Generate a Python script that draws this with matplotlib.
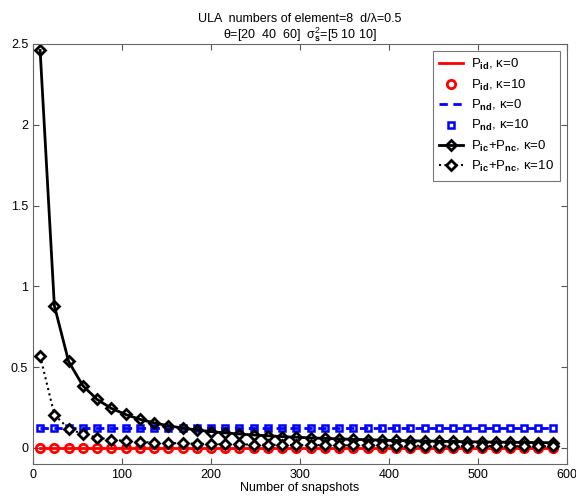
import numpy as np
import matplotlib
matplotlib.use('Agg')
import matplotlib.pyplot as plt

plt.rcParams['font.family'] = ['Liberation Sans', 'DejaVu Sans']
plt.rcParams['mathtext.fontset'] = 'custom'
plt.rcParams['mathtext.rm'] = 'Liberation Sans'
plt.rcParams['mathtext.it'] = 'Liberation Sans'
plt.rcParams['mathtext.bf'] = 'Liberation Sans:bold'

# DATA
snapshots = list(range(8, 600, 16))   # 8, 24, ..., 584

p_id_k0 = [0.0] * 37
p_id_k10 = [0.0] * 37
p_nd_k0 = [0.121] * 37
p_nd_k10 = [0.121] * 37

p_icnc_k0 = [2.46, 0.88, 0.535, 0.385, 0.300, 0.245, 0.207, 0.177, 0.155, 0.137,
             0.123, 0.111, 0.101, 0.093, 0.086, 0.080, 0.075, 0.070, 0.066, 0.062,
             0.059, 0.056, 0.053, 0.051, 0.048, 0.046, 0.044, 0.043, 0.041, 0.040,
             0.038, 0.037, 0.036, 0.035, 0.034, 0.033, 0.032]

p_icnc_k10 = [0.57, 0.205, 0.120, 0.085, 0.064, 0.051, 0.043, 0.037, 0.033, 0.030,
              0.028, 0.026, 0.024, 0.023, 0.022, 0.021, 0.020, 0.019, 0.018, 0.018,
              0.017, 0.016, 0.016, 0.015, 0.015, 0.014, 0.014, 0.013, 0.013, 0.013,
              0.012, 0.012, 0.012, 0.011, 0.011, 0.011, 0.010]

labels = [r'P$_{\mathbf{id}}$, κ=0', r'P$_{\mathbf{id}}$, κ=10',
          r'P$_{\mathbf{nd}}$, κ=0', r'P$_{\mathbf{nd}}$, κ=10',
          r'P$_{\mathbf{ic}}$+P$_{\mathbf{nc}}$, κ=0', r'P$_{\mathbf{ic}}$+P$_{\mathbf{nc}}$, κ=10']

# PLOT
fig = plt.figure(figsize=(5.76, 4.99), dpi=100)
ax = fig.add_axes([0.0573, 0.070, 0.927, 0.842])

ax.plot(snapshots, p_id_k0, '-', color='red', lw=2, label=labels[0])
ax.plot(snapshots, p_id_k10, 'o', color='red', ms=6, mew=2, mfc='none', label=labels[1])
ax.plot(snapshots, p_nd_k0, '--', color='blue', lw=2, dashes=(3, 2), label=labels[2])
ax.plot(snapshots, p_nd_k10, 's', color='blue', ms=5, mew=1.8, mfc='none', label=labels[3])
ax.plot(snapshots, p_icnc_k0, '-D', color='black', lw=2, ms=4.8, mew=2, mfc='none', label=labels[4])
ax.plot(snapshots, p_icnc_k10, ':D', color='black', lw=1.5, ms=4.8, mew=2, mfc='white', label=labels[5])

ax.set_xlim(0, 600)
ax.set_ylim(-0.1, 2.5)
ax.set_xticks([0, 100, 200, 300, 400, 500, 600])
ax.set_yticks([0, 0.5, 1, 1.5, 2, 2.5])
ax.set_yticklabels(['0', '0.5', '1', '1.5', '2', '2.5'])
ax.tick_params(direction='in', top=True, right=True, labelsize=9, colors='#555555',
               labelcolor='black', length=4)
for sp in ax.spines.values():
    sp.set_color('#666666')

ax.set_xlabel('Number of snapshots', fontsize=9, labelpad=1)
ax.set_title('ULA  numbers of element=8  d/λ=0.5\n'
             r'θ=[20  40  60]  σ$_{\mathbf{s}}^{2}$=[5 10 10]', fontsize=9, linespacing=1.0, pad=4)

leg = ax.legend(loc='upper right', fontsize=9.5, frameon=True, fancybox=False,
                handlelength=1.8, labelspacing=0.4, borderaxespad=0.5, handletextpad=0.6,
                borderpad=0.5)
leg.get_frame().set_edgecolor('#555555')
leg.get_frame().set_linewidth(0.8)

plt.savefig('out.png', dpi=100)
